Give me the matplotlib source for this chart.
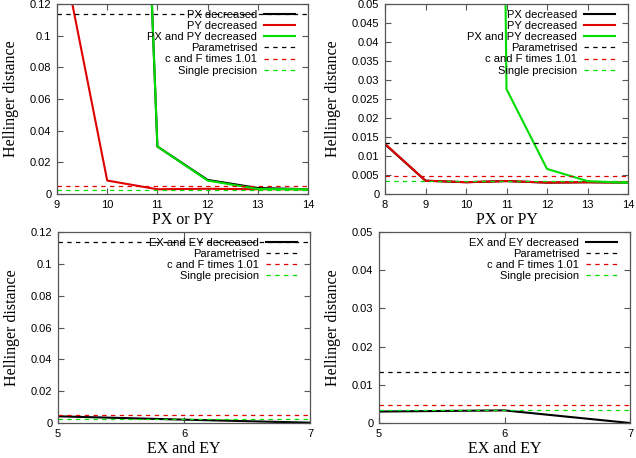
import matplotlib
matplotlib.use("Agg")
import matplotlib.pyplot as plt
from matplotlib.ticker import FuncFormatter, MultipleLocator

# --- data ---
# left column (PX / PY sweep, coarse case)
p_tl = [9, 10, 11, 12, 13, 14]
px_tl = [None, 0.85, 0.030, 0.0089, 0.0038, 0.0030]
py_tl = [0.169, 0.0085, 0.0030, 0.0033, 0.0030, 0.0030]
pxy_tl = [None, 0.85, 0.030, 0.0085, 0.0032, 0.0030]
param_l = 0.1137
cf_l = 0.0053
single_l = 0.0027

# right column (PX / PY sweep, second case)
p_tr = [8, 9, 10, 11, 12, 13, 14]
px_tr = [0.0131, 0.0035, 0.0031, 0.0034, 0.0030, 0.0031, 0.0030]
py_tr = [0.0132, 0.0035, 0.0031, 0.0034, 0.0030, 0.0031, 0.0030]
pxy_tr = [None, None, 1.0, 0.0276, 0.0066, 0.0034, 0.0029]
param_r = 0.0134
cf_r = 0.0048
single_r = 0.0033

# EX / EY sweep
e = [5, 6, 7]
exy_bl = [0.0042, 0.0021, 0.0002]
exy_br = [0.0030, 0.0033, 0.0000]

RED = '#e00000'
GREEN = '#00dd00'
FRAME = '#555555'


def clean(xs, ys):
    pts = [(x, y) for x, y in zip(xs, ys) if y is not None]
    return [p[0] for p in pts], [p[1] for p in pts]


def refs(ax, param, cf, single):
    ax.axhline(param, color='black', lw=0.9, ls=(0, (3.5, 3.5)), label='Parametrised')
    ax.axhline(cf, color=RED, lw=0.9, ls=(0, (3.5, 3.5)), label='c and F times 1.01')
    ax.axhline(single, color=GREEN, lw=0.9, ls=(0, (3.5, 3.5)), label='Single precision')


def style(ax, xlim, ylim, ystep, xlabel):
    ax.set_xlim(*xlim)
    ax.set_ylim(*ylim)
    ax.xaxis.set_major_locator(MultipleLocator(1))
    ax.yaxis.set_major_locator(MultipleLocator(ystep))
    ax.yaxis.set_major_formatter(FuncFormatter(lambda v, _: '%g' % round(v, 6)))
    ax.tick_params(direction='in', top=True, right=True, length=4, width=0.8,
                   color=FRAME, labelsize=8, pad=4)
    for s in ax.spines.values():
        s.set_color(FRAME)
        s.set_linewidth(0.9)
    ax.set_xlabel(xlabel, family='Liberation Serif', fontsize=11.5, labelpad=2)
    ax.set_ylabel('Hellinger distance', family='Liberation Serif', fontsize=11.5, labelpad=8)
    # legend: text right aligned, sample to the right (gnuplot style)
    w = ax.get_position().width * 636
    h = ax.get_position().height * 458
    leg = ax.legend(loc='upper right', bbox_to_anchor=(1 - 13 / w, 1 - 6 / h),
                    frameon=False, markerfirst=False, fontsize=8,
                    handlelength=2.8, handletextpad=0.6, labelspacing=0.1,
                    borderaxespad=0, borderpad=0)
    return leg


plt.rcParams['font.family'] = ['Liberation Sans', 'DejaVu Sans']
fig = plt.figure(figsize=(6.36, 4.58), dpi=100)

ax1 = fig.add_axes([57 / 636, 1 - 194 / 458, 251 / 636, 190 / 458])
ax2 = fig.add_axes([385 / 636, 1 - 194 / 458, 243 / 636, 190 / 458])
ax3 = fig.add_axes([58 / 636, 1 - 423 / 458, 252 / 636, 191 / 458])
ax4 = fig.add_axes([379 / 636, 1 - 423 / 458, 251 / 636, 191 / 458])

# top-left
ax1.plot(*clean(p_tl, px_tl), color='black', lw=1.5, label='PX decreased')
ax1.plot(*clean(p_tl, py_tl), color=RED, lw=1.5, label='PY decreased')
ax1.plot(*clean(p_tl, pxy_tl), color=GREEN, lw=1.5, label='PX and PY decreased')
refs(ax1, param_l, cf_l, single_l)
style(ax1, (9, 14), (0, 0.12), 0.02, 'PX or PY')

# top-right
ax2.plot(*clean(p_tr, px_tr), color='black', lw=1.5, label='PX decreased')
ax2.plot(*clean(p_tr, py_tr), color=RED, lw=1.5, label='PY decreased')
ax2.plot(*clean(p_tr, pxy_tr), color=GREEN, lw=1.5, label='PX and PY decreased')
refs(ax2, param_r, cf_r, single_r)
style(ax2, (8, 14), (0, 0.05), 0.005, 'PX or PY')

# bottom-left
ax3.plot(e, exy_bl, color='black', lw=1.5, label='EX and EY decreased')
refs(ax3, param_l, cf_l, single_l)
style(ax3, (5, 7), (0, 0.12), 0.02, 'EX and EY')

# bottom-right
ax4.plot(e, exy_br, color='black', lw=1.5, label='EX and EY decreased')
refs(ax4, param_r, cf_r, single_r)
style(ax4, (5, 7), (0, 0.05), 0.01, 'EX and EY')

fig.savefig('out.png', dpi=100)
